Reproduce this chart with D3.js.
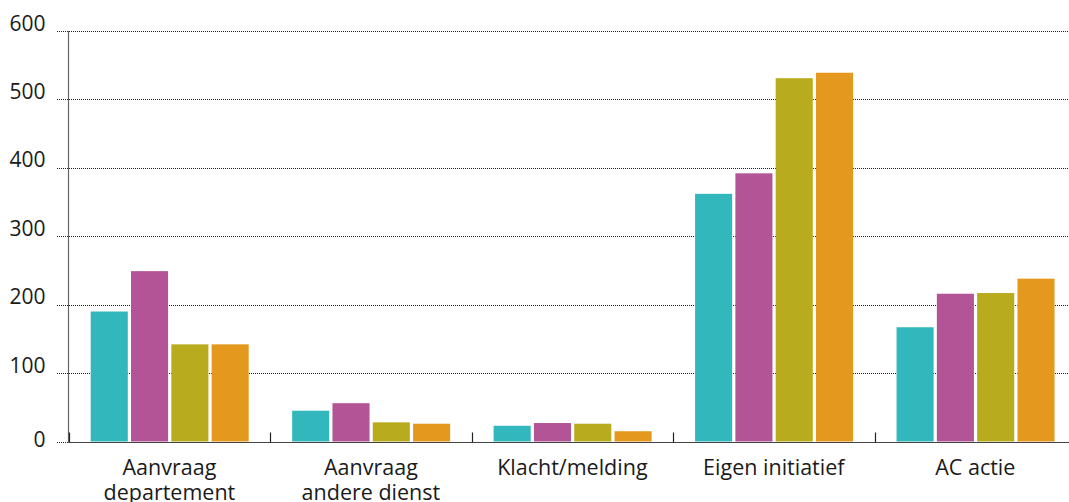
<!DOCTYPE html>
<html lang="nl">
  <head>
    <meta charset="UTF-8" />
    <title>Dossiers per type</title>
    <script src="https://d3js.org/d3.v7.min.js"></script>
    <style>
      body {
        margin: 0;
        background: #ffffff;
        overflow: hidden;
      }

      svg text {
        font-family: "Open Sans", "Noto Sans", sans-serif;
        fill: #1a1a1a;
      }

      .grid line {
        stroke: #222;
        stroke-width: 1;
        stroke-dasharray: 1, 1;
      }
    </style>
  </head>
  <body>
    <div id="chart"></div>

    <script>
      // categories (x labels, split over two lines where needed)
      const categories = [
        "Aanvraag departement",
        "Aanvraag andere dienst",
        "Klacht/melding",
        "Eigen initiatief",
        "AC actie",
      ];
      const categoryLines = [
        ["Aanvraag", "departement"],
        ["Aanvraag", "andere dienst"],
        ["Klacht/melding"],
        ["Eigen initiatief"],
        ["AC actie"],
      ];

      // four series, one value per category
      const seriesNames = ["reeks 1", "reeks 2", "reeks 3", "reeks 4"];
      const reeks1 = [190, 45, 23, 362, 167];
      const reeks2 = [249, 56, 27, 392, 216];
      const reeks3 = [142, 28, 26, 531, 217];
      const reeks4 = [142, 26, 15, 539, 238];
      const seriesColors = ["#32b7bc", "#b35497", "#b8ac1e", "#e4991e"];

      const yTicks = [0, 100, 200, 300, 400, 500, 600];

      const data = categories.map((c, i) => ({
        category: c,
        values: [reeks1[i], reeks2[i], reeks3[i], reeks4[i]],
      }));

      const W = 1069,
        H = 502;

      const svg = d3
        .select("#chart")
        .append("svg")
        .attr("width", W)
        .attr("height", H);

      // plot area runs a little past the right edge of the window
      const x0 = d3.scaleBand().domain(categories).range([68.7, 1076]);
      const x1 = d3
        .scaleBand()
        .domain(seriesNames)
        .range([22, 180])
        .paddingInner(0.08);
      const y = d3.scaleLinear().domain([0, 600]).range([441.5, 31]);

      // dotted gridlines
      svg
        .append("g")
        .attr("class", "grid")
        .selectAll("line")
        .data(yTicks)
        .join("line")
        .attr("x1", 57)
        .attr("x2", W)
        .attr("y1", (d) => Math.round(y(d)) + 0.5)
        .attr("y2", (d) => Math.round(y(d)) + 0.5);

      // y labels, sitting on their gridline (0 drops a bit lower)
      svg
        .append("g")
        .selectAll("text")
        .data(yTicks)
        .join("text")
        .attr("x", 45.5)
        .attr("y", (d) => (d === 0 ? y(d) + 5 : y(d) - 0.5))
        .attr("text-anchor", "end")
        .style("font-size", "21px")
        .text((d) => d);

      // bars
      const groups = svg
        .append("g")
        .selectAll("g")
        .data(data)
        .join("g")
        .attr("transform", (d) => `translate(${x0(d.category)},0)`);

      groups
        .selectAll("rect")
        .data((d) => d.values.map((v, i) => ({ name: seriesNames[i], v, i })))
        .join("rect")
        .attr("x", (d) => x1(d.name))
        .attr("width", x1.bandwidth())
        .attr("y", (d) => y(d.v))
        .attr("height", (d) => y(0) - y(d.v))
        .attr("fill", (d) => seriesColors[d.i]);

      // axes lines
      const base = Math.round(y(0)) + 0.5;
      svg
        .append("line")
        .attr("x1", 68.5)
        .attr("x2", 68.5)
        .attr("y1", y(600))
        .attr("y2", base)
        .attr("stroke", "#666")
        .attr("stroke-width", 1.2);

      svg
        .append("line")
        .attr("x1", 68.5)
        .attr("x2", W)
        .attr("y1", base)
        .attr("y2", base)
        .attr("stroke", "#444")
        .attr("stroke-width", 1);

      // category boundary ticks
      const bounds = categories.map((c) => x0(c)).concat([x0.range()[1]]);
      svg
        .append("g")
        .selectAll("line")
        .data(bounds)
        .join("line")
        .attr("x1", (d) => Math.round(d) + 0.5)
        .attr("x2", (d) => Math.round(d) + 0.5)
        .attr("y1", base - 10)
        .attr("y2", base)
        .attr("stroke", "#222")
        .attr("stroke-width", 1.2);

      // category labels (second line runs off the bottom, as in the source)
      const labels = svg
        .append("g")
        .selectAll("text")
        .data(categoryLines)
        .join("text")
        .attr("text-anchor", "middle")
        .style("font-size", "21.5px")
        .attr("transform", (d, i) => {
          const cx = x0(categories[i]) + x0.bandwidth() / 2;
          return `translate(${cx},474.5)`;
        });

      labels
        .selectAll("tspan")
        .data((d) => d)
        .join("tspan")
        .attr("x", 0)
        .attr("y", (d, i) => i * 25)
        .text((d) => d);
    </script>
  </body>
</html>
